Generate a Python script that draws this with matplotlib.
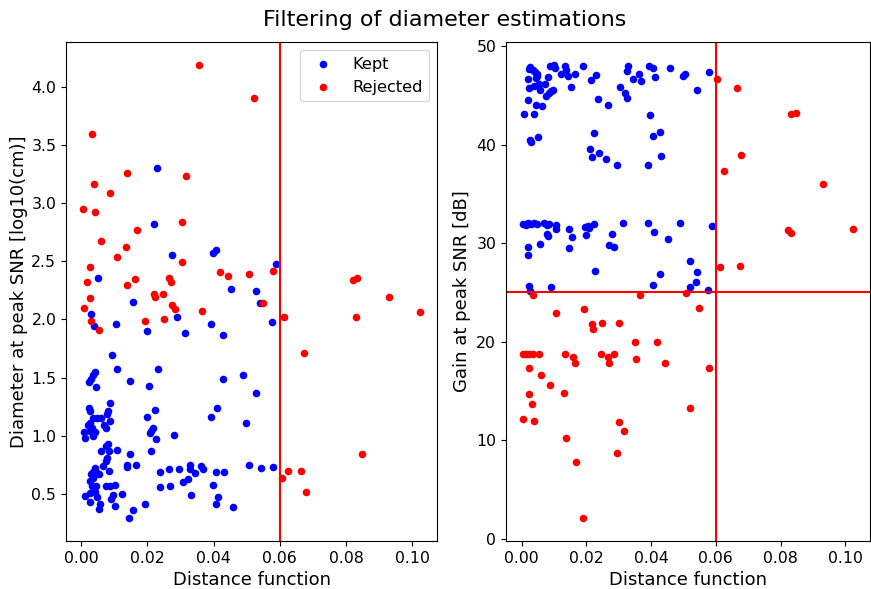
import matplotlib
matplotlib.use("Agg")
import matplotlib.pyplot as plt

# ---------------- data ----------------
# Left panel: diameter vs distance
left_kept_dist = [0.0228, 0.0219, 0.0273, 0.0406, 0.0398, 0.0052, 0.0452, 0.0588, 0.0529, 0.0541,
                  0.0577, 0.0490, 0.0527, 0.0498, 0.0507, 0.0542, 0.0579, 0.0157, 0.0031, 0.0039,
                  0.0105, 0.0199, 0.0288, 0.0314, 0.0391, 0.0427, 0.0093, 0.0042, 0.0035, 0.0029,
                  0.0022, 0.0045, 0.0107, 0.0148, 0.0205, 0.0233, 0.0428, 0.0022, 0.0025, 0.0086,
                  0.0082, 0.0077, 0.0035, 0.0047, 0.0059, 0.0027, 0.0019, 0.0032, 0.0042, 0.0007,
                  0.0011, 0.0037, 0.0025, 0.0087, 0.0069, 0.0075, 0.0224, 0.0200, 0.0217, 0.0212,
                  0.0207, 0.0225, 0.0280, 0.0409, 0.0393, 0.0082, 0.0074, 0.0059, 0.0085, 0.0077,
                  0.0075, 0.0067, 0.0083, 0.0107, 0.0147, 0.0137, 0.0139, 0.0166, 0.0212, 0.0042,
                  0.0035, 0.0047, 0.0029, 0.0037, 0.0027, 0.0055, 0.0032, 0.0045, 0.0075, 0.0087,
                  0.0102, 0.0042, 0.0011, 0.0027, 0.0047, 0.0027, 0.0057, 0.0054, 0.0090, 0.0097,
                  0.0102, 0.0124, 0.0155, 0.0144, 0.0193, 0.0239, 0.0264, 0.0296, 0.0328, 0.0328,
                  0.0363, 0.0368, 0.0345, 0.0406, 0.0431, 0.0239, 0.0267, 0.0306, 0.0323, 0.0397,
                  0.0413, 0.0408, 0.0458, 0.0331]
left_kept_diam = [3.30, 2.82, 2.55, 2.60, 2.57, 2.36, 2.26, 2.48, 2.24, 2.14,
                  1.98, 1.52, 1.37, 1.11, 0.75, 0.72, 0.73, 2.15, 2.05, 1.94,
                  1.96, 1.90, 2.02, 1.88, 1.96, 1.87, 1.69, 1.55, 1.52, 1.49,
                  1.46, 1.42, 1.57, 1.47, 1.43, 1.57, 1.49, 1.24, 1.21, 1.28,
                  1.21, 1.19, 1.15, 1.15, 1.15, 1.11, 1.09, 1.07, 1.03, 1.03,
                  0.98, 1.00, 1.04, 1.13, 1.09, 1.07, 1.22, 1.16, 1.07, 1.04,
                  1.02, 0.97, 1.01, 1.24, 1.16, 0.93, 0.91, 0.87, 0.87, 0.81,
                  0.78, 0.74, 0.70, 0.88, 0.84, 0.75, 0.73, 0.75, 0.87, 0.72,
                  0.69, 0.68, 0.67, 0.64, 0.61, 0.67, 0.57, 0.57, 0.57, 0.57,
                  0.58, 0.52, 0.48, 0.51, 0.47, 0.43, 0.41, 0.37, 0.46, 0.49,
                  0.40, 0.50, 0.36, 0.29, 0.41, 0.69, 0.71, 0.71, 0.75, 0.71,
                  0.74, 0.71, 0.68, 0.69, 0.69, 0.56, 0.57, 0.60, 0.63, 0.58,
                  0.47, 0.41, 0.39, 0.49]
left_rej_dist = [0.0930, 0.1024, 0.0830, 0.0613, 0.0674, 0.0847, 0.0626, 0.0665, 0.0605, 0.0679,
                 0.0549, 0.0521, 0.0822, 0.0832, 0.0508, 0.0578, 0.0355, 0.0033, 0.0139, 0.0317,
                 0.0040, 0.0088, 0.0005, 0.0042, 0.0305, 0.0168, 0.0061, 0.0135, 0.0108, 0.0304,
                 0.0027, 0.0017, 0.0163, 0.0138, 0.0266, 0.0271, 0.0419, 0.0443, 0.0026, 0.0008,
                 0.0030, 0.0055, 0.0219, 0.0223, 0.0248, 0.0273, 0.0284, 0.0194, 0.0251, 0.0366]
left_rej_diam = [2.19, 2.06, 2.02, 2.02, 1.71, 0.84, 0.70, 0.70, 0.64, 0.52,
                 2.14, 3.90, 2.34, 2.36, 2.39, 2.42, 4.19, 3.59, 3.26, 3.23,
                 3.16, 3.09, 2.95, 2.92, 2.84, 2.77, 2.67, 2.62, 2.54, 2.49,
                 2.45, 2.32, 2.35, 2.30, 2.36, 2.32, 2.41, 2.37, 2.18, 2.10,
                 1.99, 1.91, 2.22, 2.19, 2.22, 2.12, 2.09, 1.99, 2.00, 2.07]

# Right panel: gain vs distance
right_kept_dist = [0.0027, 0.0024, 0.0034, 0.0041, 0.0047, 0.0049, 0.0044, 0.0021, 0.0024, 0.0037,
                   0.0054, 0.0057, 0.0072, 0.0082, 0.0088, 0.0100, 0.0102, 0.0122, 0.0135, 0.0138,
                   0.0144, 0.0164, 0.0153, 0.0190, 0.0216, 0.0231, 0.0237, 0.0266, 0.0303, 0.0319,
                   0.0325, 0.0328, 0.0326, 0.0343, 0.0362, 0.0369, 0.0395, 0.0407, 0.0411, 0.0457,
                   0.0498, 0.0505, 0.0019, 0.0044, 0.0064, 0.0009, 0.0039, 0.0075, 0.0085, 0.0092,
                   0.0097, 0.0578, 0.0541,
                   0.0223, 0.0027, 0.0029, 0.0051, 0.0211, 0.0219, 0.0239, 0.0261, 0.0294, 0.0398,
                   0.0405, 0.0428, 0.0430, 0.0392,
                   0.0004, 0.0014, 0.0021, 0.0029, 0.0039, 0.0047, 0.0069, 0.0078, 0.0085, 0.0105,
                   0.0105, 0.0078, 0.0082, 0.0057, 0.0019, 0.0019, 0.0145, 0.0155, 0.0147, 0.0195,
                   0.0200, 0.0205, 0.0224, 0.0208, 0.0278, 0.0271, 0.0286, 0.0313, 0.0390, 0.0408,
                   0.0452, 0.0489, 0.0228, 0.0427, 0.0405, 0.0521, 0.0024, 0.0091, 0.0521, 0.0027,
                   0.0587, 0.0543, 0.0539, 0.0576]
right_kept_gain = [47.9, 47.7, 47.6, 47.4, 47.2, 47.0, 46.7, 46.6, 45.7, 45.9,
                   46.1, 45.5, 46.1, 46.8, 48.0, 48.1, 47.8, 47.2, 48.0, 47.6,
                   47.0, 47.2, 45.8, 48.0, 46.5, 47.1, 44.6, 44.0, 45.8, 45.2,
                   44.7, 48.0, 47.5, 46.6, 47.2, 46.4, 48.0, 47.8, 46.8, 47.8,
                   47.0, 47.2, 44.5, 44.0, 43.9, 43.1, 43.1, 44.9, 45.2, 45.4,
                   45.5, 47.4, 45.5,
                   41.2, 40.5, 40.3, 40.8, 39.5, 38.7, 39.1, 38.5, 37.9, 43.0,
                   40.9, 41.3, 38.8, 37.9,
                   31.9, 31.8, 32.0, 31.9, 32.0, 31.9, 32.0, 31.8, 31.9, 31.8,
                   31.4, 30.9, 30.7, 29.9, 29.6, 28.8, 31.4, 30.6, 29.5, 31.6,
                   30.8, 31.7, 31.9, 31.5, 30.9, 29.8, 29.6, 32.0, 32.0, 31.1,
                   30.4, 32.0, 27.2, 26.9, 25.8, 28.2, 25.7, 25.6, 25.6, 25.1,
                   31.7, 27.1, 26.1, 25.3]
right_rej_dist = [0.0604, 0.0666, 0.0831, 0.0848, 0.0679, 0.0625, 0.0930, 0.0822, 0.0831, 0.1025,
                  0.0613, 0.0674, 0.0507, 0.0036, 0.0365, 0.0106, 0.0192, 0.0219, 0.0222, 0.0249,
                  0.0302, 0.0350, 0.0418, 0.0004, 0.0014, 0.0024, 0.0034, 0.0054, 0.0135, 0.0160,
                  0.0166, 0.0246, 0.0266, 0.0271, 0.0284, 0.0353, 0.0442, 0.0022, 0.0059, 0.0087,
                  0.0132, 0.0024, 0.0031, 0.0003, 0.0039, 0.0519, 0.0302, 0.0316, 0.0137, 0.0295,
                  0.0167, 0.0189, 0.0549, 0.0578]
right_rej_gain = [46.6, 45.7, 43.1, 43.2, 38.9, 37.3, 36.0, 31.3, 31.0, 31.4,
                  27.6, 27.7, 24.9, 24.7, 24.7, 22.9, 23.3, 21.8, 21.3, 21.9,
                  21.9, 20.0, 20.0, 18.8, 18.8, 18.8, 18.8, 18.8, 18.8, 18.5,
                  17.9, 18.8, 18.5, 17.9, 18.8, 18.3, 17.9, 17.3, 16.6, 15.6,
                  14.8, 14.7, 13.7, 12.2, 12.0, 13.3, 11.9, 11.0, 10.2, 8.7,
                  7.8, 2.1, 23.4, 17.3]

dist_threshold = 0.06
gain_threshold = 25

# ---------------- plot ----------------
plt.rcParams['font.family'] = ['DejaVu Sans']
plt.rcParams['font.size'] = 11

fig = plt.figure(figsize=(8.71, 5.89), dpi=100)
ax1 = fig.add_axes([0.0758, 0.0815, 0.4260, 0.8472])
ax2 = fig.add_axes([0.5809, 0.0815, 0.4180, 0.8472])

ms = 30
ax1.scatter(left_kept_dist, left_kept_diam, s=ms, c='blue', linewidths=0, label='Kept')
ax1.scatter(left_rej_dist, left_rej_diam, s=ms, c='red', linewidths=0, label='Rejected')
ax1.axvline(dist_threshold, color='red', linewidth=1.5)
ax1.set_xlabel('Distance function', fontsize=13)
ax1.set_ylabel('Diameter at peak SNR [log10(cm)]', fontsize=13, labelpad=2)
ax1.legend(loc='upper right', fontsize=11.7)

ax2.scatter(right_kept_dist, right_kept_gain, s=ms, c='blue', linewidths=0, label='Kept')
ax2.scatter(right_rej_dist, right_rej_gain, s=ms, c='red', linewidths=0, label='Rejected')
ax2.axvline(dist_threshold, color='red', linewidth=1.5)
ax2.axhline(gain_threshold, color='red', linewidth=1.5)
ax2.set_xlabel('Distance function', fontsize=13)
ax2.set_ylabel('Gain at peak SNR [dB]', fontsize=13)

for ax in (ax1, ax2):
    ax.set_xticks([0.0, 0.02, 0.04, 0.06, 0.08, 0.10])
    ax.tick_params(labelsize=11.3)

fig.suptitle('Filtering of diameter estimations', fontsize=16, x=0.51, y=0.966, va='center')

fig.savefig('out.png', dpi=100)
